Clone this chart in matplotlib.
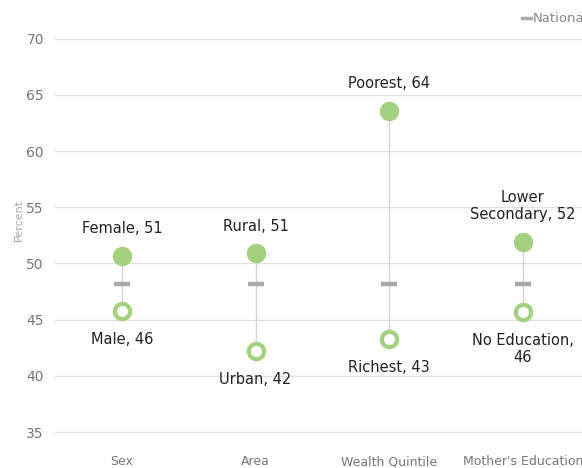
import matplotlib.pyplot as plt
from matplotlib.lines import Line2D

categories = ["Sex", "Area", "Wealth Quintile", "Mother's Education"]
high_labels = ["Female, 51", "Rural, 51", "Poorest, 64", "Lower\nSecondary, 52"]
high_values = [50.7, 50.9, 63.6, 51.95]
low_labels = ["Male, 46", "Urban, 42", "Richest, 43", "No Education,\n46"]
low_values = [45.8, 42.2, 43.3, 45.7]
national = [48.2, 48.2, 48.2, 48.2]

green = '#a3d17f'
fig = plt.figure(figsize=(5.82, 4.68), dpi=100)
ax = fig.add_axes([0.0945, 0.0745, 0.919, 0.845])

x = list(range(len(categories)))
for i in x:
    ax.plot([i, i], [low_values[i], high_values[i]], color='#d4d4d4', lw=1, zorder=1)
ax.plot(x, national, ls='none', marker='_', ms=11.5, mew=3.2, color='#aaaaaa', zorder=2)
ax.plot(x, high_values, ls='none', marker='o', ms=13, color=green, mec=green, zorder=3)
ax.plot(x, low_values, ls='none', marker='o', ms=11, mfc='white', mec=green, mew=3, zorder=3)

for i in x:
    ax.annotate(high_labels[i], (i, high_values[i]), xytext=(0, 14), textcoords='offset points',
                ha='center', va='bottom', fontsize=10.5, color='#222222', linespacing=1.2)
    ax.annotate(low_labels[i], (i, low_values[i]), xytext=(0, -15), textcoords='offset points',
                ha='center', va='top', fontsize=10.5, color='#222222', linespacing=1.2)

ax.set_xlim(-0.5, 3.5)
ax.set_ylim(34.9, 70.1)
ax.set_yticks(range(35, 71, 5))
ax.set_xticks(x)
ax.set_xticklabels(categories)
ax.grid(axis='y', color='#e2e2e2', lw=1)
ax.set_axisbelow(True)
for s in ax.spines.values():
    s.set_visible(False)
ax.tick_params(axis='both', length=0, colors='#777777')
ax.tick_params(axis='x', pad=16, labelsize=9)
ax.tick_params(axis='y', pad=8, labelsize=10)
ax.set_ylabel('Percent', fontsize=8, color='#aaaaaa')
ax.yaxis.set_label_coords(-0.058, 0.54)

fig.add_artist(Line2D([522 / 582, 531 / 582], [0.9615, 0.9615], color='#aaaaaa', lw=2.5))
fig.text(533 / 582, 0.9615, 'National', color='#888888', fontsize=9.5, ha='left', va='center')

fig.savefig('out.png', dpi=100)
